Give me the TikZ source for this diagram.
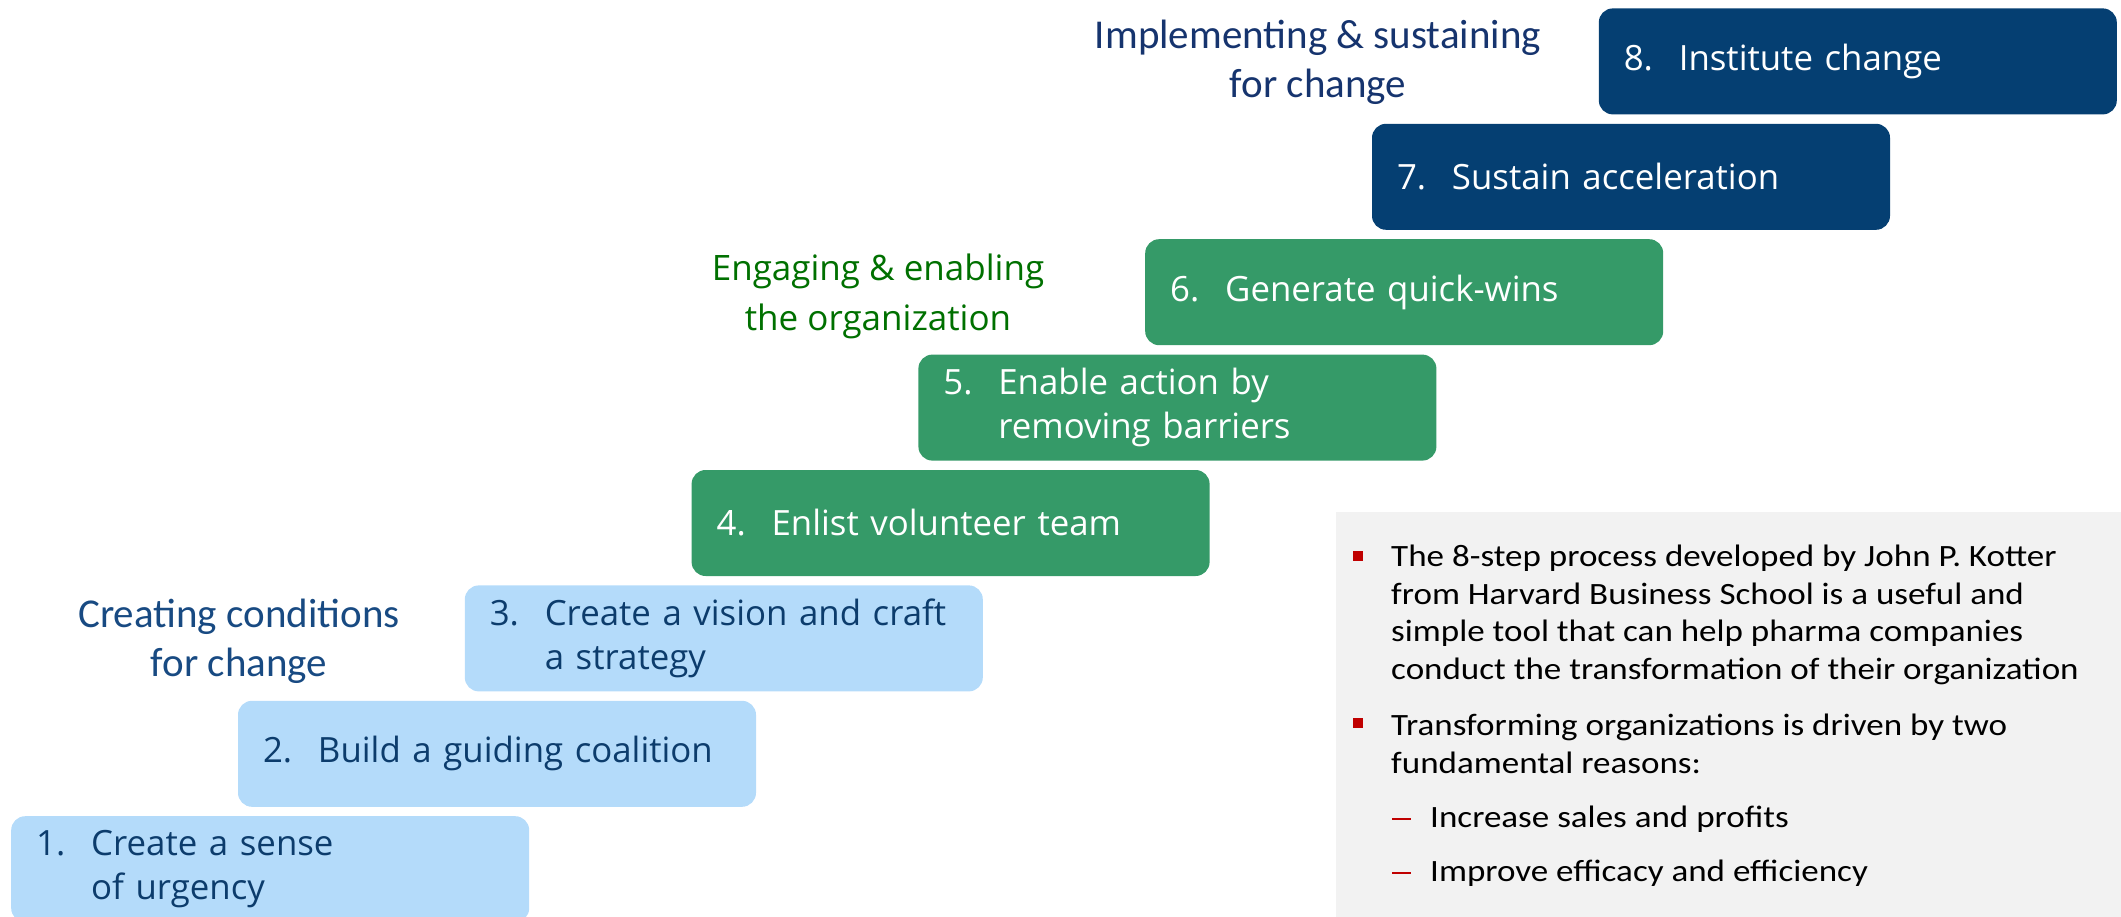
\documentclass[tikz,border=0pt]{standalone}
\usepackage{fontspec}
\setmainfont{Open Sans}
\newfontfamily\calfont{Carlito}
\newfontfamily\calwide[FakeStretch=1.13]{Carlito}
\definecolor{lightblue}{RGB}{180,219,250}
\definecolor{navytext}{RGB}{12,60,108}
\definecolor{stepgreen}{RGB}{53,154,104}
\definecolor{stepnavy}{RGB}{5,63,114}
\definecolor{labnavy}{RGB}{22,52,110}
\definecolor{labblue}{RGB}{24,74,130}
\definecolor{labgreen}{RGB}{0,112,0}
\definecolor{panelgray}{RGB}{242,242,242}
\definecolor{bulletred}{RGB}{192,0,0}
\newcommand\sn[1]{\makebox[55pt][l]{#1}}
\newcommand\ind{\hspace*{55pt}}
\tikzset{
  stepbox/.style={rounded corners=14pt, minimum width=518pt, minimum height=106pt,
    anchor=north west, align=left, text width=468pt, inner xsep=25pt, inner ysep=0pt,
    font=\fontsize{34.8}{44}\selectfont},
  lightstep/.style={stepbox, fill=lightblue, text=navytext},
  greenstep/.style={stepbox, fill=stepgreen, text=white},
  navystep/.style={stepbox, fill=stepnavy, text=white},
  grouplab/.style={align=center, inner sep=0pt},
  bullettext/.style={anchor=north west, align=left, inner sep=0pt, text=black,
    font=\calwide\fontsize{31}{37.5}\selectfont},
  redsq/.style={fill=bulletred, draw=none, inner sep=0pt, minimum width=10pt, minimum height=10pt},
}
\begin{document}
\begin{tikzpicture}[x=1pt,y=-1pt]
\useasboundingbox (0,0) rectangle (2121,917);
% panel
\node[fill=panelgray, anchor=north west, minimum width=785pt, minimum height=406pt, inner sep=0pt] (panel) at (1336,512) {};
% steps
\node[lightstep] (s1) at (11,816) {\sn{1.}Create a sense\\\ind of urgency};
\node[lightstep] (s2) at (237.8,700.6) {\sn{2.}Build a guiding coalition};
\node[lightstep] (s3) at (464.6,585.2) {\sn{3.}Create a vision and craft\\\ind a strategy};
\node[greenstep] (s4) at (691.4,469.8) {\sn{4.}Enlist volunteer team};
\node[greenstep] (s5) at (918.2,354.4) {\sn{5.}Enable action by\\\ind removing barriers};
\node[greenstep] (s6) at (1145,239) {\sn{6.}Generate quick-wins};
\node[navystep] (s7) at (1371.8,123.6) {\sn{7.}Sustain acceleration};
\node[navystep] (s8) at (1598.6,8.2) {\sn{8.}Institute change};
% group labels
\node[grouplab, text=labnavy, font=\calfont\fontsize{41}{49}\selectfont] (g3) at (1318,62) {Implementing \& sustaining\\for change};
\node[grouplab, text=labgreen, font=\fontsize{35}{50}\selectfont] (g2) at (878,296) {Engaging \& enabling\\the organization};
\node[grouplab, text=labblue, font=\calfont\fontsize{41}{49}\selectfont] (g1) at (239,641) {Creating conditions\\for change};
% bullets
\node[redsq] (b1) at (1358,556) {};
\node[bullettext] (t1) at (1391,545) {The 8-step process developed by John P. Kotter\\from Harvard Business School is a useful and\\simple tool that can help pharma companies\\conduct the transformation of their organization};
\node[redsq] (b2) at (1358,723) {};
\node[bullettext] (t2) at (1391,714) {Transforming organizations is driven by two\\fundamental reasons:};
\node[bullettext] (t3) at (1430,806) {Increase sales and profits};
\node[bullettext] (t4) at (1430,860) {Improve efficacy and efficiency};
\coordinate (d1a) at (1392,819);
\coordinate (d1b) at (1411,819);
\coordinate (d2a) at (1392,873);
\coordinate (d2b) at (1411,873);
\draw[bulletred, line width=2.5pt] (d1a) -- (d1b);
\draw[bulletred, line width=2.5pt] (d2a) -- (d2b);
\end{tikzpicture}
\end{document}
